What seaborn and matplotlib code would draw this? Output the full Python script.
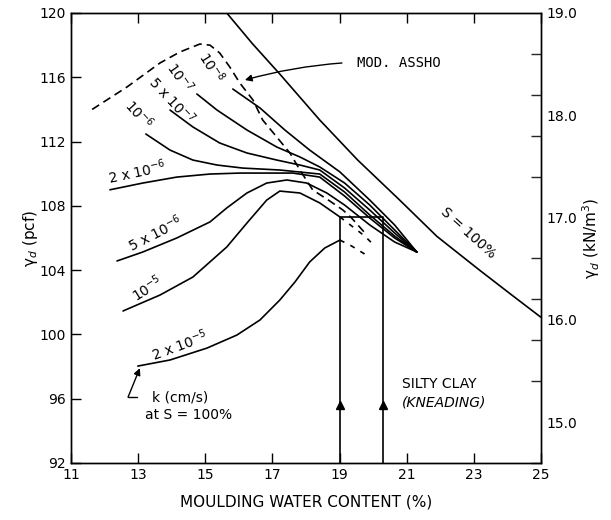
import numpy as np
import pandas as pd
import seaborn as sns
import matplotlib.pyplot as plt

# moulding water content (%) / dry unit weight (pcf)
s100_w = [15.64, 16.4, 17.22, 18.41, 19.54, 20.79, 21.9, 23.17, 24.1, 24.99]
s100_g = [120.0, 118.1, 116.2, 113.34, 110.85, 108.36, 106.1, 104.0, 102.5, 101.08]

assho_w = [11.63, 12.67, 13.65, 14.24, 14.84, 15.14, 15.43, 15.73, 16.03, 16.42, 16.71,
           17.13, 17.52, 17.82, 18.20, 18.71, 19.10, 19.36, 19.60, 19.81]
assho_g = [114.0, 115.4, 116.89, 117.57, 118.07, 118.0, 117.51, 116.64, 115.64, 114.59, 113.34,
           112.28, 111.29, 110.23, 108.99, 108.3, 107.74, 107.24, 106.68, 106.19]

k1e8_w = [15.82, 16.63, 17.37, 18.11, 19.01, 19.90, 20.64, 21.30]
k1e8_g = [115.27, 114.09, 112.72, 111.47, 110.11, 108.36, 106.81, 105.13]

k1e7_w = [14.75, 15.35, 16.24, 17.13, 17.82, 18.41, 19.15, 19.90, 20.64, 21.30]
k1e7_g = [114.96, 113.96, 112.72, 111.66, 111.04, 110.42, 109.42, 108.05, 106.50, 105.13]

k5e7_w = [13.95, 14.63, 15.43, 16.24, 17.13, 17.82, 18.41, 19.15, 19.90, 20.64, 21.30]
k5e7_g = [113.96, 112.91, 111.91, 111.29, 110.85, 110.54, 110.23, 109.11, 107.74, 106.31, 105.13]

k1e6_w = [13.23, 13.95, 14.63, 15.35, 16.12, 17.22, 18.41, 19.15, 19.90, 20.64, 21.30]
k1e6_g = [112.47, 111.47, 110.85, 110.54, 110.35, 110.23, 109.98, 108.86, 107.43, 106.12, 105.13]

k2e6_w = [12.16, 13.14, 14.15, 15.14, 16.03, 17.61, 18.41, 19.15, 19.90, 20.64, 21.30]
k2e6_g = [109.0, 109.42, 109.79, 109.98, 110.04, 110.04, 109.79, 108.61, 107.24, 106.0, 105.13]

k5e6_w = [12.37, 13.14, 14.15, 15.14, 15.64, 16.24, 16.83, 17.43, 18.02, 18.62, 19.15, 19.90, 20.64, 21.30]
k5e6_g = [104.57, 105.13, 106.0, 107.0, 107.87, 108.80, 109.42, 109.61, 109.42, 108.80, 108.05, 106.81, 105.75, 105.13]

k1e5_w = [12.55, 13.65, 14.63, 15.64, 16.24, 16.83, 17.22, 17.82, 18.41, 19.01]
k1e5_g = [101.46, 102.45, 103.57, 105.44, 106.93, 108.36, 108.92, 108.80, 108.18, 107.31]
k1e5_wet_w = [19.01, 19.36, 19.75, 20.05]
k1e5_wet_g = [107.31, 106.75, 106.12, 105.50]

k2e5_w = [12.99, 13.95, 15.05, 15.94, 16.63, 17.22, 17.67, 18.11, 18.56, 19.01]
k2e5_g = [98.03, 98.41, 99.15, 99.96, 100.90, 102.14, 103.26, 104.51, 105.38, 105.87]
k2e5_wet_w = [19.01, 19.36, 19.75]
k2e5_wet_g = [105.87, 105.5, 105.0]

# optimum bracket
box_w = [19.0, 19.0, 20.3, 20.3]
box_g = [92.0, 107.3, 107.3, 92.0]
arrow_w = [19.0, 20.3]
arrow_g = [95.6, 95.6]

curve_labels = ['10$^{-8}$', '10$^{-7}$', '5 x 10$^{-7}$', '10$^{-6}$', '2 x 10$^{-6}$',
                '5 x 10$^{-6}$', '10$^{-5}$', '2 x 10$^{-5}$', 'S = 100%']
label_w = [15.20, 14.24, 14.01, 13.02, 12.96, 13.50, 13.26, 14.24, 22.82]
label_g = [116.64, 116.02, 114.59, 113.72, 110.11, 106.31, 102.89, 99.34, 106.31]
label_rot = [-58, -55, -47, -48, 12, 27, 32, 20, -42]

left_ticks = [92, 96, 100, 104, 108, 112, 116, 120]
x_ticks = [11, 13, 15, 17, 19, 21, 23, 25]
right_labels = [15.0, 16.0, 17.0, 18.0, 19.0]
right_marks = [14.6, 15.0, 15.4, 15.8, 16.2, 16.6, 17.0, 17.4, 17.8, 18.2, 18.6, 19.0]

sns.set_style('ticks')
plt.rcParams['font.family'] = ['DejaVu Sans']
plt.rcParams['text.color'] = 'black'
plt.rcParams['axes.labelcolor'] = 'black'

fig = plt.figure(figsize=(6.11, 5.2), dpi=100)
ax = fig.add_axes([71 / 611, 57 / 520, 470 / 611, 450 / 520])

solid = [(s100_w, s100_g), (k1e8_w, k1e8_g), (k1e7_w, k1e7_g), (k5e7_w, k5e7_g),
         (k1e6_w, k1e6_g), (k2e6_w, k2e6_g), (k5e6_w, k5e6_g), (k1e5_w, k1e5_g),
         (k2e5_w, k2e5_g), (box_w, box_g)]
dashed = [(assho_w, assho_g), (k1e5_wet_w, k1e5_wet_g), (k2e5_wet_w, k2e5_wet_g)]

for w, g in solid:
    d = pd.DataFrame({'w': w, 'g': g})
    sns.lineplot(data=d, x='w', y='g', sort=False, estimator=None, color='black', lw=1.2, ax=ax)
for i, (w, g) in enumerate(dashed):
    d = pd.DataFrame({'w': w, 'g': g})
    sns.lineplot(data=d, x='w', y='g', sort=False, estimator=None, color='black', lw=1.2,
                 ax=ax, dashes=False, linestyle=(0, (5, 3)) if i == 0 else (0, (3, 4)))

ax.plot(arrow_w, arrow_g, ls='none', marker='^', ms=6, color='black')

for t, x, y, r in zip(curve_labels, label_w, label_g, label_rot):
    ax.text(x, y, t, rotation=r, ha='center', va='center', fontsize=10, rotation_mode='anchor')

ax.annotate('', xy=(16.18, 115.83), xytext=(19.07, 116.89),
            arrowprops=dict(arrowstyle='-|>', color='black', lw=1, shrinkA=0, shrinkB=0,
                            connectionstyle='arc3,rad=0.05'))
ax.text(19.51, 116.89, 'MOD. ASSHO', ha='left', va='center', fontsize=10, family='DejaVu Sans Mono')

ax.annotate('', xy=(13.05, 97.9), xytext=(12.70, 96.1),
            arrowprops=dict(arrowstyle='-|>', color='black', lw=1, shrinkA=0, shrinkB=0))
ax.plot([12.70, 12.96], [96.1, 96.1], color='black', lw=1)
ax.text(13.41, 96.1, 'k (cm/s)', ha='left', va='center', fontsize=10)
ax.text(13.20, 94.98, 'at S = 100%', ha='left', va='center', fontsize=10)

ax.text(20.85, 96.91, 'SILTY CLAY', ha='left', va='center', fontsize=10)
ax.text(20.85, 95.79, '(KNEADING)', ha='left', va='center', fontsize=10, style='italic')

ax.set_xlim(11, 25)
ax.set_ylim(92, 120)
ax.set_xticks(x_ticks)
ax.set_yticks(left_ticks)
ax.tick_params(direction='in', length=7, width=1, top=True, labelsize=10, colors='black')
ax.set_xlabel('MOULDING WATER CONTENT (%)', fontsize=11, labelpad=9)
ax.set_ylabel('γ$_d$ (pcf)', fontsize=11, labelpad=0)
for sp in ax.spines.values():
    sp.set_color('black')
    sp.set_linewidth(1)

ax2 = ax.twinx()
ax2.set_ylim(14.6, 19.0)
ax2.set_yticks(right_labels)
ax2.set_yticklabels(['%.1f' % v for v in right_labels])
ax2.set_yticks(right_marks, minor=True)
ax2.tick_params(axis='y', which='major', length=0, labelsize=10, pad=4, colors='black')
ax2.tick_params(axis='y', which='minor', direction='in', length=7, width=1)
ax2.set_ylabel('γ$_d$ (kN/m$^3$)', fontsize=11, labelpad=2)
for sp in ax2.spines.values():
    sp.set_color('black')
    sp.set_linewidth(1)

fig.savefig('out.png', dpi=100)
